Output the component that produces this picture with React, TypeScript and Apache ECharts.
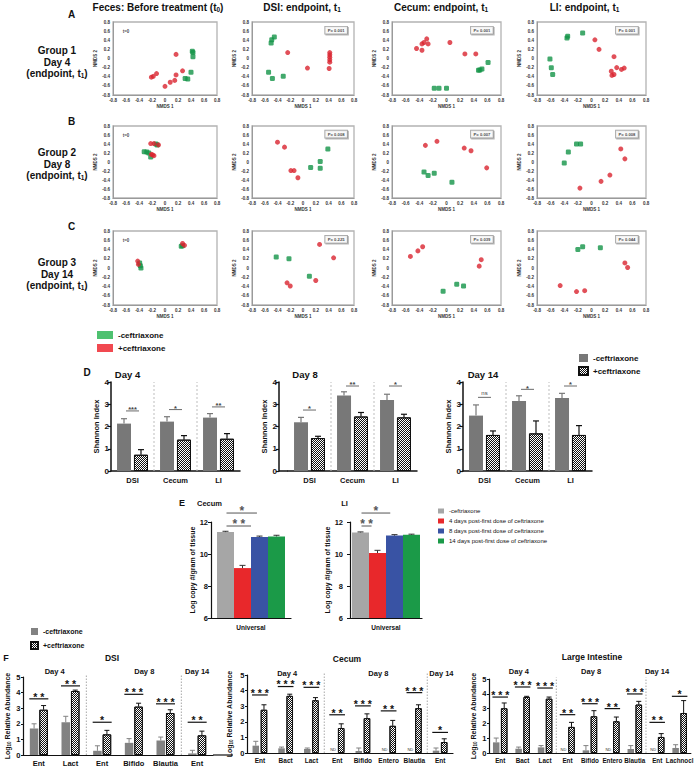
import { useEffect, useRef } from 'react';
import * as echarts from 'echarts';

const FF = '"Liberation Sans", Arial, Helvetica, sans-serif';
const INK = '#111111';

// ===================== A–C : NMDS ordination (NMDS 1, NMDS 2) =====================
const nmdsA1Minus = [[0.42, 0.16], [0.43, 0.13], [0.43, 0.04], [0.40, -0.30], [0.31, -0.44], [0.35, -0.45]];
const nmdsA1Plus = [[-0.21, -0.41], [-0.18, -0.39], [-0.13, -0.33], [0.17, 0.09], [0.17, -0.36], [0.27, -0.27], [0.15, -0.48], [0.08, -0.52], [0.0, -0.61]];
const nmdsA2Minus = [[-0.45, 0.47], [-0.49, 0.41], [-0.50, 0.34], [-0.54, -0.30], [-0.48, -0.44], [-0.31, -0.39]];
const nmdsA2Plus = [[-0.24, 0.13], [0.07, -0.21], [0.42, 0.13], [0.42, 0.08], [0.42, 0.03], [0.42, -0.03], [0.42, -0.08], [0.41, -0.22]];
const nmdsA3Minus = [[0.61, -0.09], [0.47, -0.26], [0.49, -0.25], [0.52, -0.23], [-0.18, -0.65], [-0.11, -0.65], [0.0, -0.65]];
const nmdsA3Plus = [[-0.44, 0.22], [-0.36, 0.32], [-0.33, 0.35], [-0.29, 0.43], [-0.27, 0.32], [-0.36, 0.18], [0.05, 0.35], [0.27, 0.10], [0.43, 0.10]];
const nmdsA4Minus = [[-0.35, 0.49], [-0.36, 0.45], [-0.13, 0.56], [-0.61, -0.01], [-0.59, -0.20], [-0.57, -0.35]];
const nmdsA4Plus = [[0.05, 0.41], [0.11, 0.20], [0.33, 0.04], [0.29, -0.28], [0.37, -0.20], [0.30, -0.37], [0.33, -0.35], [0.44, -0.24], [0.48, -0.21]];
const nmdsB1Minus = [[-0.32, 0.23], [-0.28, 0.22], [-0.25, 0.20], [-0.22, 0.11], [-0.14, 0.40], [-0.12, 0.38]];
const nmdsB1Plus = [[-0.22, 0.41], [-0.17, 0.41], [-0.10, 0.38], [-0.21, 0.17], [-0.17, 0.14], [-0.19, 0.16]];
const nmdsB2Minus = [[0.12, -0.12], [0.27, 0.01], [0.27, -0.14], [0.39, 0.29]];
const nmdsB2Plus = [[-0.40, 0.44], [-0.29, 0.33], [-0.19, -0.19], [-0.14, -0.19], [-0.08, -0.35]];
const nmdsB3Minus = [[-0.33, -0.22], [-0.27, -0.30], [-0.18, -0.25], [0.08, -0.45]];
const nmdsB3Plus = [[-0.31, 0.37], [-0.14, 0.46], [0.26, 0.31], [0.36, 0.25], [0.59, -0.13]];
const nmdsB4Minus = [[-0.40, -0.02], [-0.34, 0.22], [-0.22, 0.40], [-0.16, 0.40]];
const nmdsB4Plus = [[0.43, 0.29], [0.49, 0.07], [0.27, -0.29], [0.14, -0.43], [-0.17, -0.58]];
const nmdsC1Minus = [[-0.39, 0.11], [-0.38, 0.05], [-0.37, 0.0], [0.25, 0.47], [0.27, 0.48]];
const nmdsC1Plus = [[-0.42, 0.15], [-0.41, 0.08], [0.27, 0.53], [0.30, 0.49]];
const nmdsC2Minus = [[-0.42, 0.24], [-0.22, 0.20], [0.10, -0.18]];
const nmdsC2Plus = [[0.26, 0.51], [0.48, 0.22], [-0.25, -0.32], [-0.20, -0.39], [0.20, -0.27]];
const nmdsC3Minus = [[-0.05, -0.50], [0.15, -0.35], [0.25, -0.39]];
const nmdsC3Plus = [[-0.53, 0.25], [-0.42, 0.37], [-0.35, 0.46], [0.51, 0.18], [0.48, 0.04]];
const nmdsC4Minus = [[-0.20, 0.40], [-0.13, 0.46], [0.13, 0.44]];
const nmdsC4Plus = [[0.49, 0.11], [0.53, 0.01], [-0.46, -0.38], [-0.22, -0.51], [-0.10, -0.49]];
const nmdsPValues = [['', '0.001', '0.001', '0.001'], ['', '0.008', '0.007', '0.008'], ['', '0.225', '0.039', '0.044']];
const nmdsColumnTitles = [['Feces: Before treatment (t', '0', ')'], ['DSI: endpoint, t', '1', ''], ['Cecum: endpoint, t', '1', ''], ['LI: endpoint, t', '1', '']];
const groupNames = ['Group 1', 'Group 2', 'Group 3'];
const groupDays = ['Day 4', 'Day 8', 'Day 14'];
const rowLetters = ['A', 'B', 'C'];

// ===================== D : Shannon index =====================
const shannonSites = ['DSI', 'Cecum', 'LI'];
const shannonDays = ['Day 4', 'Day 8', 'Day 14'];
const shannonMinus = [[2.13, 2.22, 2.40], [2.19, 3.39, 3.19], [2.49, 3.15, 3.28]];
const shannonMinusTop = [[2.35, 2.44, 2.58], [2.41, 3.56, 3.45], [2.97, 3.38, 3.49]];
const shannonPlus = [[0.73, 1.41, 1.45], [1.48, 2.45, 2.41], [1.62, 1.69, 1.62]];
const shannonPlusTop = [[0.96, 1.59, 1.68], [1.56, 2.63, 2.55], [1.80, 2.25, 2.04]];
const shannonSig = [['***', '*', '**'], ['*', '**', '*'], ['ns', '*', '*']];
const shannonSigY = [[2.70, 2.76, 2.88], [2.74, 3.82, 3.82], [3.31, 3.67, 3.82]];

// ===================== E : universal 16S qPCR =====================
const qpcrCategory = ['Universal'];
const qpcrGroups = ['-ceftriaxone', '4 days post-first dose of ceftriaxone', '8 days post-first dose of ceftriaxone', '14 days post-first dose of ceftriaxone'];
const qpcrSites = ['Cecum', 'LI'];
const qpcrCecum = [11.37, 9.12, 11.06, 11.10];
const qpcrCecumTop = [11.42, 9.29, 11.12, 11.17];
const qpcrLI = [11.35, 10.06, 11.15, 11.20];
const qpcrLITop = [11.38, 10.23, 11.21, 11.24];
const qpcrCecumSig = [{ text: '**', y: 11.75, from: 0, to: 1.5 }, { text: '*', y: 12.56, from: 0, to: 1.85 }];
const qpcrLISig = [{ text: '*', y: 12.56, from: 0, to: 1.75 }, { text: '**', y: 11.75, from: 0, to: 0.65 }];

// ===================== F : taxon-specific qPCR =====================
const dayNames = ['Day 4', 'Day 8', 'Day 14'];
const dsiTargets = ['Ent', 'Lact', 'Ent', 'Bifido', 'Blautia', 'Ent'];
const dsiMinus = [1.70, 2.10, 0.27, 0.78, 0.93, 0.10];
const dsiMinusTop = [2.00, 2.48, 0.59, 1.05, 1.15, 0.30];
const dsiPlus = [2.90, 4.10, 1.32, 3.10, 2.69, 1.26];
const dsiPlusTop = [3.17, 4.16, 1.58, 3.32, 2.90, 1.53];
const dsiSig = ['**', '**', '*', '***', '***', '**'];
const dsiSigY = [3.60, 4.43, 2.10, 3.89, 3.28, 2.10];

const cecumTargets = ['Ent', 'Bact', 'Lact', 'Ent', 'Bifido', 'Entero', 'Blautia', 'Ent'];
const cecumMinus = [0.47, 0.30, 0.26, null, 0.13, null, null, 0.15];
const cecumMinusTop = [0.75, 0.38, 0.32, null, 0.32, null, null, 0.32];
const cecumPlus = [2.77, 3.66, 3.38, 1.60, 2.23, 1.74, 2.87, 0.70];
const cecumPlusTop = [3.09, 3.77, 3.55, 1.87, 2.51, 2.09, 3.09, 0.91];
const cecumSig = ['***', '***', '***', '**', '***', '**', '***', '*'];
const cecumSigY = [3.72, 4.26, 4.21, 2.45, 3.02, 2.70, 3.87, 1.32];

const liTargets = ['Ent', 'Bact', 'Lact', 'Ent', 'Bifido', 'Entero', 'Blautia', 'Ent', 'Lachnocl'];
const liMinus = [0.72, 0.29, 0.38, null, 0.18, null, 0.27, null, 0.34];
const liMinusTop = [1.01, 0.40, 0.50, null, 0.50, null, 0.50, null, 0.56];
const liPlus = [3.02, 3.78, 3.67, 1.76, 2.48, 2.14, 3.27, 1.08, 2.70];
const liPlusTop = [3.38, 3.83, 3.78, 2.07, 2.86, 2.43, 3.49, 1.31, 3.54];
const liSig = ['***', '***', '***', '**', '***', '**', '***', '**', '*'];
const liSigY = [3.78, 4.46, 4.39, 2.59, 3.33, 3.00, 3.99, 2.07, 3.83];

// ---------------------------------------------------------------
const checker = { symbol: 'rect', symbolSize: 1, color: '#111', dashArrayX: [[1, 1], [0, 1, 1, 0]], dashArrayY: [1, 0] };

function spaced(s: string) {
  return s.split('').join(' ');
}

function decor(idx: number, marks: any[], yBase: number) {
  return {
    type: 'custom',
    xAxisIndex: idx,
    yAxisIndex: idx,
    clip: false,
    silent: true,
    z: 5,
    data: marks.map(() => [0, yBase]),
    renderItem: (params: any, api: any) => {
      const m = marks[params.dataIndex];
      const band = api.size([1, 0])[0];
      const c0 = api.coord([0, yBase])[0];
      const xAt = (p: number) => c0 + p * band;
      const yAt = (v: number) => api.coord([0, v])[1];
      const txtStyle = (text: string, font: string, color: string) => ({
        text, font, fill: color, textFill: color,
        align: 'center', textAlign: 'center', verticalAlign: 'middle', textVerticalAlign: 'middle',
      });
      if (m.k === 'err') {
        const x = xAt(m.at) + m.dx;
        const y0 = yAt(m.v);
        const y1 = yAt(m.top);
        const st = { stroke: m.color, lineWidth: m.lw };
        return {
          type: 'group',
          children: [
            { type: 'line', shape: { x1: x, y1: y0, x2: x, y2: y1 }, style: st },
            { type: 'line', shape: { x1: x - m.cap, y1: y1, x2: x + m.cap, y2: y1 }, style: st },
          ],
        };
      }
      if (m.k === 'sig') {
        const cx = xAt(m.at);
        const y = yAt(m.y);
        return {
          type: 'group',
          children: [
            { type: 'line', shape: { x1: cx + m.x0, y1: y, x2: cx + m.x1, y2: y }, style: { stroke: m.color, lineWidth: m.lw } },
            { type: 'text', x: cx + (m.x0 + m.x1) / 2, y: y - m.dy, style: txtStyle(m.text, m.font, m.color) },
          ],
        };
      }
      if (m.k === 'sep') {
        const x = xAt(m.at);
        return { type: 'line', shape: { x1: x, y1: yAt(m.y0), x2: x, y2: yAt(m.y1) }, style: { stroke: m.color, lineWidth: 1, lineDash: m.dash } };
      }
      if (m.k === 'hl') {
        const y = yAt(m.y);
        return { type: 'line', shape: { x1: xAt(m.a0), y1: y, x2: xAt(m.a1), y2: y }, style: { stroke: m.color, lineWidth: m.lw } };
      }
      // text
      return { type: 'text', x: xAt(m.at) + (m.dx || 0), y: yAt(m.y) - (m.dy || 0), style: txtStyle(m.text, m.font, m.color) };
    },
  };
}

function buildOption() {
  const grid: any[] = [];
  const xAxis: any[] = [];
  const yAxis: any[] = [];
  const series: any[] = [];
  const graphic: any[] = [];
  const legend: any[] = [];

  const add = (g: any, x: any, y: any) => {
    const i = grid.length;
    grid.push(g);
    xAxis.push({ ...x, gridIndex: i });
    yAxis.push({ ...y, gridIndex: i });
    return i;
  };
  const label = (x: number, y: number, text: string, size: number, rich?: any, weight = 'bold') => {
    graphic.push({
      type: 'text', x, y, silent: true,
      style: {
        text, font: `${weight} ${size}px ${FF}`, fill: INK, textFill: INK,
        align: 'center', textAlign: 'center', verticalAlign: 'middle', textVerticalAlign: 'middle',
        rich,
      },
    });
  };
  const richTok = (size: number, lh: number, sub = false) => ({
    fontSize: size, fontWeight: 'bold', fontFamily: FF, fill: INK, textFill: INK, color: INK, lineHeight: lh,
    ...(sub ? { verticalAlign: 'bottom' } : {}),
  });
  const titleRich = { b: richTok(10, 12), s: richTok(6.5, 4, true) };

  // ---------------- A–C scatter panels ----------------
  const nmdsMinus = [[nmdsA1Minus, nmdsA2Minus, nmdsA3Minus, nmdsA4Minus], [nmdsB1Minus, nmdsB2Minus, nmdsB3Minus, nmdsB4Minus], [nmdsC1Minus, nmdsC2Minus, nmdsC3Minus, nmdsC4Minus]];
  const nmdsPlus = [[nmdsA1Plus, nmdsA2Plus, nmdsA3Plus, nmdsA4Plus], [nmdsB1Plus, nmdsB2Plus, nmdsB3Plus, nmdsB4Plus], [nmdsC1Plus, nmdsC2Plus, nmdsC3Plus, nmdsC4Plus]];
  const colL = [113, 252, 392, 537];
  const colW = [104, 102, 109, 109];
  const rowT = [22, 126, 231];
  const rowH = [73, 72, 74];
  const tickFont = { fontSize: 4.5, fontWeight: 'bold', color: '#333', fontFamily: FF };
  const nmdsAxis = (name: string, gap: number) => ({
    type: 'value', min: -0.8, max: 0.8, interval: 0.2,
    name, nameLocation: 'middle', nameGap: gap, nameTextStyle: tickFont,
    axisLine: { show: true, onZero: false, lineStyle: { color: '#9a9a9a', width: 1 } },
    axisTick: { show: false }, splitLine: { show: false },
    axisLabel: { ...tickFont, margin: 3, formatter: (v: number) => String(Math.round(v * 10) / 10) },
  });
  for (let r = 0; r < 3; r++) {
    for (let c = 0; c < 4; c++) {
      const i = add(
        { left: colL[c], top: rowT[r], width: colW[c], height: rowH[r], show: true, borderColor: '#b3b3b3', borderWidth: 1.3, backgroundColor: '#fff' },
        nmdsAxis('NMDS 1', 9),
        nmdsAxis('NMDS 2', 13),
      );
      series.push({ type: 'scatter', name: '-ceftriaxone', xAxisIndex: i, yAxisIndex: i, data: nmdsMinus[r][c], symbol: 'roundRect', symbolSize: 5, itemStyle: { color: '#139447' }, silent: true });
      series.push({ type: 'scatter', name: '+ceftriaxone', xAxisIndex: i, yAxisIndex: i, data: nmdsPlus[r][c], symbol: 'circle', symbolSize: 5, itemStyle: { color: '#d9242f' }, silent: true });
      if (c === 0) {
        series.push({
          type: 'scatter', name: 'note', xAxisIndex: i, yAxisIndex: i, data: [[-0.6, 0.6]], symbolSize: 0.1, itemStyle: { color: 'transparent' }, silent: true,
          label: { show: true, position: 'inside', formatter: 't=0', ...tickFont, color: INK },
        });
      } else {
        series.push({
          type: 'scatter', name: 'note', xAxisIndex: i, yAxisIndex: i, data: [[0.52, 0.62]], symbolSize: 0.1, itemStyle: { color: 'transparent' }, silent: true,
          label: {
            show: true, position: 'inside', formatter: 'P= ' + nmdsPValues[r][c], fontSize: 4.2, fontWeight: 'bold', color: INK, fontFamily: FF,
            backgroundColor: '#fff', borderColor: '#888', borderWidth: 0.8, padding: [1.5, 2.5],
            shadowColor: 'rgba(0,0,0,0.35)', shadowOffsetX: 1, shadowOffsetY: 1, shadowBlur: 0,
          },
        });
      }
    }
  }
  const titleX = [158, 302, 441, 584.5];
  nmdsColumnTitles.forEach((t, c) => {
    label(titleX[c], 7, `{b|${t[0]}}{s|${t[1]}}{b|${t[2]}}`, 10, titleRich);
  });
  const rowLetterY = [14, 121, 226.5];
  const rowGroupY = [62, 164, 274];
  rowLetters.forEach((l, r) => {
    label(71.5, rowLetterY[r], l, 10);
    label(57, rowGroupY[r], `{b|${groupNames[r]}}\n{b|${groupDays[r]}}\n{b|(endpoint, t}{s|1}{b|)}`, 10, { b: richTok(10, 11.2), s: richTok(6.5, 4, true) });
  });
  legend.push({
    orient: 'vertical', left: 97, top: 331, padding: 0, itemWidth: 16, itemHeight: 8, itemGap: 5, icon: 'rect', selectedMode: false,
    data: [{ name: '-ceftriaxone', itemStyle: { color: '#22b14c' } }, { name: '+ceftriaxone', itemStyle: { color: '#ed1c24' } }],
    textStyle: { fontSize: 8, fontWeight: 'bold', color: INK, fontFamily: FF },
  });

  // ---------------- D: Shannon ----------------
  const dLeft = [111, 288, 463];
  const dOff = [0, 9, 0];
  const dTitleX = [127.5, 305, 483];
  label(87, 372, 'D', 10);
  shannonDays.forEach((day, d) => {
    label(dTitleX[d], 374, day, 9.5);
    const i = add(
      { left: dLeft[d], top: 382, width: 129, height: 89 },
      {
        type: 'category', data: shannonSites,
        axisLine: { lineStyle: { color: INK, width: 1.5 } }, axisTick: { show: false },
        axisLabel: { fontSize: 7.5, fontWeight: 'bold', color: INK, fontFamily: FF, margin: 5, interval: 0 },
      },
      {
        type: 'value', min: 0, max: 4, interval: 1, offset: dOff[d],
        name: 'Shannon Index', nameLocation: 'middle', nameGap: 11,
        nameTextStyle: { fontSize: 7.5, fontWeight: 'bold', color: INK, fontFamily: FF },
        axisLine: { show: true, lineStyle: { color: INK, width: 1.5 } },
        axisTick: { show: true, length: 3, lineStyle: { color: INK, width: 1.2 } },
        axisLabel: { fontSize: 8, fontWeight: 'bold', color: INK, fontFamily: FF, margin: 2 },
        splitLine: { show: false },
      },
    );
    series.push({ type: 'bar', name: 'shannon-', xAxisIndex: i, yAxisIndex: i, data: shannonMinus[d], barWidth: 14, barGap: '21%', itemStyle: { color: '#787878' }, silent: true });
    series.push({ type: 'bar', name: 'shannon+', xAxisIndex: i, yAxisIndex: i, data: shannonPlus[d], barWidth: 14, barGap: '21%', itemStyle: { color: '#fff', borderColor: INK, borderWidth: 1, decal: checker }, silent: true });
    const marks: any[] = [];
    shannonSites.forEach((_, k) => {
      marks.push({ k: 'err', at: k, dx: -8.5, v: shannonMinus[d][k], top: shannonMinusTop[d][k], color: '#787878', cap: 3, lw: 1.2 });
      marks.push({ k: 'err', at: k, dx: 8.5, v: shannonPlus[d][k], top: shannonPlusTop[d][k], color: INK, cap: 3, lw: 1.2 });
      const s = shannonSig[d][k];
      const ns = s === 'ns';
      marks.push({ k: 'sig', at: k, y: shannonSigY[d][k], text: s, x0: -6.5, x1: 6.5, dy: ns ? 4.5 : 1.3, lw: 0.8, color: '#444', font: `${ns ? 'normal' : 'bold'} ${ns ? 6 : 7.5}px ${FF}` });
    });
    marks.push({ k: 'sep', at: 0.5, y0: 0, y1: 4, color: '#bdbdbd', dash: [2, 2] });
    marks.push({ k: 'sep', at: 1.5, y0: 0, y1: 4, color: '#bdbdbd', dash: [2, 2] });
    if (dOff[d]) marks.push({ k: 'hl', a0: -0.5 - dOff[d] / 43, a1: -0.5, y: 0, color: INK, lw: 1.5 });
    series.push(decor(i, marks, 0));
  });
  legend.push({
    orient: 'vertical', left: 578, top: 354, padding: 0, itemWidth: 9, itemHeight: 8, itemGap: 4, icon: 'rect', selectedMode: false,
    data: ['shannon-', 'shannon+'], formatter: (n: string) => (n === 'shannon-' ? '-ceftriaxone' : '+ceftriaxone'),
    textStyle: { fontSize: 8, fontWeight: 'bold', color: INK, fontFamily: FF },
  });

  // ---------------- E: universal qPCR ----------------
  const eLeft = [211, 350];
  const eWidth = [80, 72];
  const eNameGap = [14, 18];
  const eMargin = [3, 7];
  const eTitleX = [209.5, 344.5];
  const eColors = ['#a6a6a6', '#e8282b', '#3953a4', '#1b9a48'];
  const eVals = [qpcrCecum, qpcrLI];
  const eTops = [qpcrCecumTop, qpcrLITop];
  const eSigs = [qpcrCecumSig, qpcrLISig];
  label(182, 503, 'E', 9);
  qpcrSites.forEach((site, s) => {
    label(eTitleX[s], 503, site, 7.5);
    const i = add(
      { left: eLeft[s], top: 522, width: eWidth[s], height: 96 },
      {
        type: 'category', data: qpcrCategory,
        axisLine: { lineStyle: { color: INK, width: 1.2 } }, axisTick: { show: false },
        axisLabel: { fontSize: 6.5, fontWeight: 'bold', color: INK, fontFamily: FF, margin: 6 },
      },
      {
        type: 'value', min: 6, max: 12, interval: 2,
        name: 'Log copy #/gram of tissue', nameLocation: 'middle', nameGap: eNameGap[s],
        nameTextStyle: { fontSize: 7, fontWeight: 'bold', color: INK, fontFamily: FF },
        axisLine: { show: true, lineStyle: { color: INK, width: 1.2 } },
        axisTick: { show: true, length: 3, lineStyle: { color: INK, width: 1 } },
        axisLabel: { fontSize: 7.5, fontWeight: 'bold', color: INK, fontFamily: FF, margin: eMargin[s] },
        splitLine: { show: false },
      },
    );
    const marks: any[] = [];
    qpcrGroups.forEach((g, k) => {
      series.push({ type: 'bar', name: 'qpcr' + k, xAxisIndex: i, yAxisIndex: i, data: [eVals[s][k]], barWidth: 17, barGap: '0%', itemStyle: { color: eColors[k] }, silent: true });
      marks.push({ k: 'err', at: 0, dx: (k - 1.5) * 17, v: eVals[s][k], top: eTops[s][k], color: '#333', cap: 3, lw: 1 });
    });
    eSigs[s].forEach((g) => {
      marks.push({ k: 'sig', at: 0, y: g.y, text: spaced(g.text), x0: (g.from - 1.5) * 17 + 1, x1: (g.to - 1.5) * 17, dy: 2.2, lw: 1, color: '#555', font: `bold 12px ${FF}` });
    });
    series.push(decor(i, marks, 6));
  });
  legend.push({
    orient: 'vertical', left: 438, top: 508, padding: 0, itemWidth: 6, itemHeight: 5, itemGap: 4, icon: 'rect', selectedMode: false,
    data: ['qpcr0', 'qpcr1', 'qpcr2', 'qpcr3'], formatter: (n: string) => qpcrGroups[Number(n.slice(4))],
    textStyle: { fontSize: 6, color: INK, fontFamily: FF },
  });

  // ---------------- F: target qPCR ----------------
  label(6, 658, 'F', 9);
  const fPanels = [
    { title: 'DSI', tx: 112, ty: 658, left: 23, top: 677, width: 190, height: 79, cats: dsiTargets, minus: dsiMinus, minusTop: dsiMinusTop, plus: dsiPlus, plusTop: dsiPlusTop, sig: dsiSig, sigY: dsiSigY, barW: 8.5, gap: 1, lab: 7.5, nameGap: 8.5, seps: [1.5, 4.5], dayAt: [0.5, 3.33, 5], dayDy: 6, axisExt: 0.63 },
    { title: 'Cecum', tx: 347, ty: 659, left: 247, top: 675, width: 206, height: 78, cats: cecumTargets, minus: cecumMinus, minusTop: cecumMinusTop, plus: cecumPlus, plusTop: cecumPlusTop, sig: cecumSig, sigY: cecumSigY, barW: 6.5, gap: 1.7, lab: 6.5, nameGap: 13, seps: [2.5, 6.5], dayAt: [1.06, 4.6, 7.05], dayDy: 2, axisExt: 0 },
    { title: 'Large Intestine', tx: 592, ty: 657, left: 489, top: 679, width: 210, height: 74, cats: liTargets, minus: liMinus, minusTop: liMinusTop, plus: liPlus, plusTop: liPlusTop, sig: liSig, sigY: liSigY, barW: 6.5, gap: 1.5, lab: 6.3, nameGap: 10, seps: [2.5, 6.5], dayAt: [0.83, 4.05, 6.99], dayDy: 8, axisExt: 0 },
  ];
  fPanels.forEach((p) => {
    label(p.tx, p.ty, p.title, 8.5);
    const i = add(
      { left: p.left, top: p.top, width: p.width, height: p.height },
      {
        type: 'category', data: p.cats,
        axisLine: { lineStyle: { color: INK, width: 1.2 } }, axisTick: { show: false },
        axisLabel: { fontSize: p.lab, fontWeight: 'bold', color: INK, fontFamily: FF, margin: 4, interval: 0 },
      },
      {
        type: 'value', min: 0, max: 5, interval: 1,
        name: '{a|Log}{s|10}{a| Relative Abundance}', nameLocation: 'middle', nameGap: p.nameGap,
        nameTextStyle: { rich: { a: { fontSize: 7, fontWeight: 'bold', color: INK, fontFamily: FF, lineHeight: 9 }, s: { fontSize: 4.5, fontWeight: 'bold', color: INK, fontFamily: FF, lineHeight: 3, verticalAlign: 'bottom' } } },
        axisLine: { show: true, lineStyle: { color: INK, width: 1.2 } },
        axisTick: { show: true, length: 2, lineStyle: { color: INK, width: 1 } },
        axisLabel: { fontSize: 7.5, fontWeight: 'bold', color: INK, fontFamily: FF, margin: 2.5 },
        splitLine: { show: false },
      },
    );
    const gapPct = Math.round((p.gap / p.barW) * 100) + '%';
    series.push({ type: 'bar', name: 'abund-', xAxisIndex: i, yAxisIndex: i, data: p.minus, barWidth: p.barW, barGap: gapPct, itemStyle: { color: '#828282' }, silent: true });
    series.push({ type: 'bar', name: 'abund+', xAxisIndex: i, yAxisIndex: i, data: p.plus, barWidth: p.barW, barGap: gapPct, itemStyle: { color: '#fff', borderColor: INK, borderWidth: 0.9, decal: checker }, silent: true });
    const marks: any[] = [];
    const off = (p.barW + p.gap) / 2;
    const len = 2 * p.barW + p.gap + 1;
    p.cats.forEach((_, k) => {
      if (p.minus[k] == null) {
        marks.push({ k: 'txt', at: k, dx: -off, y: 0.25, dy: 0, text: 'ND', font: `normal 4px ${FF}`, color: '#333' });
      } else {
        marks.push({ k: 'err', at: k, dx: -off, v: p.minus[k], top: p.minusTop[k], color: '#828282', cap: 2.5, lw: 1 });
      }
      marks.push({ k: 'err', at: k, dx: off, v: p.plus[k], top: p.plusTop[k], color: INK, cap: 2.5, lw: 1 });
      marks.push({ k: 'sig', at: k, y: p.sigY[k], text: spaced(p.sig[k]), x0: -len / 2, x1: len / 2, dy: 2.1, lw: 1.2, color: INK, font: `bold 10.5px ${FF}` });
    });
    p.seps.forEach((a) => marks.push({ k: 'sep', at: a, y0: 0, y1: 5.1, color: '#a8a8a8', dash: [1.5, 1.5] }));
    dayNames.forEach((t, j) => marks.push({ k: 'txt', at: p.dayAt[j], dx: 0, y: 5, dy: p.dayDy, text: t, font: `bold 7.5px ${FF}`, color: INK }));
    if (p.axisExt) marks.push({ k: 'hl', a0: p.cats.length - 0.5, a1: p.cats.length - 0.5 + p.axisExt, y: 0, color: INK, lw: 1.2 });
    series.push(decor(i, marks, 0));
  });
  legend.push({
    orient: 'vertical', left: 30, top: 628, padding: 0, itemWidth: 7, itemHeight: 7, itemGap: 6, icon: 'rect', selectedMode: false,
    data: ['abund-', 'abund+'], formatter: (n: string) => (n === 'abund-' ? '-ceftriaxone' : '+ceftriaxone'),
    textStyle: { fontSize: 7, fontWeight: 'bold', color: INK, fontFamily: FF },
  });

  return {
    animation: false,
    backgroundColor: '#ffffff',
    textStyle: { fontFamily: FF },
    tooltip: { show: false },
    grid, xAxis, yAxis, series, graphic, legend,
  };
}

export default function App() {
  const ref = useRef<HTMLDivElement>(null);
  useEffect(() => {
    if (!ref.current) return;
    const chart = echarts.init(ref.current, undefined, { renderer: 'svg' });
    chart.setOption(buildOption() as any);
    return () => chart.dispose();
  }, []);
  return <div ref={ref} style={{ position: 'absolute', left: 0, top: 0, width: 696, height: 767, background: '#fff' }} />;
}
